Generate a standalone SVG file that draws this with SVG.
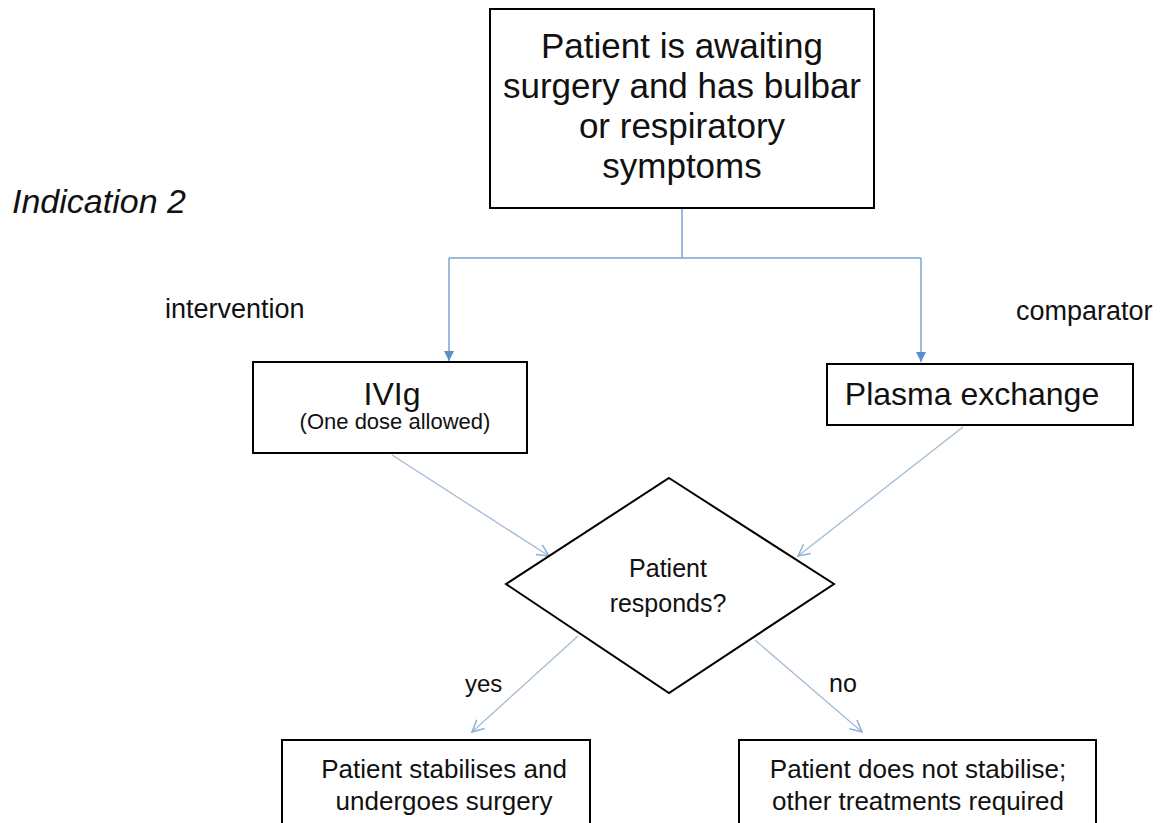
<svg xmlns="http://www.w3.org/2000/svg" width="1165" height="823" viewBox="0 0 1165 823">
<style>
.box{fill:#fff;stroke:#000;stroke-width:2}
.t{font-family:"Liberation Sans",Arial,sans-serif;fill:#111;text-anchor:middle}
.lab{font-family:"Liberation Sans",Arial,sans-serif;fill:#111}
.c1{fill:none;stroke:#7BA3CF;stroke-width:1.5}
.c2{fill:none;stroke:#9FBCD8;stroke-width:1.3}
</style>
<defs>
<marker id="tri" viewBox="0 0 10 10" refX="10" refY="5" markerWidth="10" markerHeight="10" markerUnits="userSpaceOnUse" orient="auto">
<path d="M0,0 L10,5 L0,10 Z" fill="#5B8FCC"/>
</marker>
<marker id="chev" viewBox="0 0 12 12" refX="11" refY="6" markerWidth="14" markerHeight="14" markerUnits="userSpaceOnUse" orient="auto">
<path d="M1,1 L11,6 L1,11" fill="none" stroke="#8FB0D3" stroke-width="1.3"/>
</marker>
</defs>
<rect width="1165" height="823" fill="#fff"/>
<text class="lab" x="12" y="213" font-size="34" font-style="italic">Indication 2</text>
<text class="lab" x="165" y="318" font-size="27">intervention</text>
<text class="lab" x="1016" y="320" font-size="27">comparator</text>
<text class="lab" x="465" y="692" font-size="24">yes</text>
<text class="lab" x="829" y="692" font-size="25">no</text>
<g id="connectors">
<path class="c1" d="M682,208 V258"/>
<path class="c1" d="M449,258 H921"/>
<path class="c1" d="M449,258 V361" marker-end="url(#tri)"/>
<path class="c1" d="M921,258 V362" marker-end="url(#tri)"/>
<path class="c2" d="M392,455 L549,556" marker-end="url(#chev)"/>
<path class="c2" d="M963,427 L798,556" marker-end="url(#chev)"/>
<path class="c2" d="M578,636 L472,732" marker-end="url(#chev)"/>
<path class="c2" d="M755,640 L862,732" marker-end="url(#chev)"/>
</g>
<g id="start">
<rect class="box" x="490" y="9" width="384" height="199"/>
<text class="t" x="682" y="58" font-size="35">Patient is awaiting</text>
<text class="t" x="682" y="98" font-size="35">surgery and has bulbar</text>
<text class="t" x="682" y="138" font-size="35">or respiratory</text>
<text class="t" x="682" y="178" font-size="35">symptoms</text>
</g>
<g id="ivig">
<rect class="box" x="253" y="362" width="274" height="91"/>
<text class="t" x="392" y="405" font-size="32">IVIg</text>
<text class="t" x="395" y="429" font-size="22">(One dose allowed)</text>
</g>
<g id="plasma">
<rect class="box" x="827" y="364" width="306" height="61"/>
<text class="t" x="972" y="405" font-size="32">Plasma exchange</text>
</g>
<g id="decision">
<polygon class="box" points="669,478 834,584 669,693 506,584"/>
<text class="t" x="668" y="577" font-size="25">Patient</text>
<text class="t" x="668" y="612" font-size="25">responds?</text>
</g>
<g id="stabilises">
<rect class="box" x="282" y="740" width="308" height="95"/>
<text class="t" x="444" y="778" font-size="26">Patient stabilises and</text>
<text class="t" x="444" y="810" font-size="26">undergoes surgery</text>
</g>
<g id="notstabilise">
<rect class="box" x="739" y="740" width="357" height="95"/>
<text class="t" x="918" y="778" font-size="26">Patient does not stabilise;</text>
<text class="t" x="918" y="810" font-size="26">other treatments required</text>
</g>
</svg>
